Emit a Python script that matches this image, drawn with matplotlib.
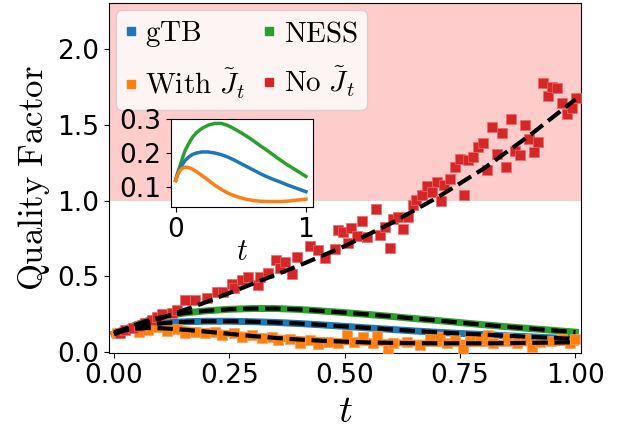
import matplotlib
matplotlib.use("Agg")
import matplotlib.pyplot as plt
from matplotlib.lines import Line2D
import numpy as np

plt.rcParams['mathtext.fontset'] = 'cm'

# model curves (shared by main plot and inset)
t_curve = [0, 0.01, 0.02, 0.03, 0.05, 0.07, 0.1, 0.13, 0.16, 0.2, 0.25, 0.3, 0.35,
           0.4, 0.45, 0.5, 0.55, 0.6, 0.65, 0.7, 0.75, 0.8, 0.85, 0.9, 0.95, 1.0]
ness = [0.12, 0.135, 0.148, 0.158, 0.183, 0.205, 0.228, 0.247, 0.26, 0.272, 0.282,
        0.287, 0.287, 0.281, 0.271, 0.26, 0.248, 0.235, 0.221, 0.208, 0.194, 0.18,
        0.167, 0.155, 0.143, 0.131]
gtb = [0.12, 0.132, 0.142, 0.15, 0.165, 0.177, 0.188, 0.196, 0.2, 0.203, 0.203,
       0.2, 0.195, 0.188, 0.179, 0.169, 0.159, 0.149, 0.139, 0.13, 0.122, 0.115,
       0.107, 0.1, 0.093, 0.086]
with_j = [0.118, 0.13, 0.14, 0.147, 0.155, 0.158, 0.157, 0.152, 0.145, 0.134, 0.12,
          0.105, 0.093, 0.082, 0.074, 0.068, 0.063, 0.06, 0.058, 0.057, 0.057, 0.057,
          0.058, 0.06, 0.062, 0.064]

# fit through the "No J" data
t_fit = [0, 0.1, 0.2, 0.3, 0.4, 0.5, 0.6, 0.7, 0.8, 0.9, 1.0]
no_j_fit = [0.13, 0.22, 0.33, 0.45, 0.57, 0.70, 0.85, 1.02, 1.21, 1.43, 1.67]

# sampled data, No J
t_no = [0.013, 0.024, 0.042, 0.053, 0.067, 0.082, 0.092, 0.103, 0.125, 0.136,
        0.154, 0.176, 0.201, 0.222, 0.237, 0.255, 0.259, 0.277, 0.291, 0.313,
        0.316, 0.334, 0.352, 0.360, 0.371, 0.385, 0.396, 0.425, 0.443, 0.457,
        0.479, 0.486, 0.497, 0.506, 0.514, 0.526, 0.537, 0.548, 0.567, 0.576,
        0.587, 0.597, 0.605, 0.616, 0.627, 0.638, 0.647, 0.654, 0.667, 0.679,
        0.688, 0.699, 0.708, 0.714, 0.728, 0.739, 0.750, 0.758, 0.767, 0.779,
        0.789, 0.799, 0.809, 0.820, 0.829, 0.840, 0.849, 0.860, 0.869, 0.880,
        0.891, 0.900, 0.910, 0.919, 0.930, 0.941, 0.950, 0.960, 0.970, 0.981,
        0.992, 1.001]
q_no = [0.128, 0.145, 0.157, 0.172, 0.19, 0.21, 0.233, 0.251, 0.256, 0.278,
        0.344, 0.344, 0.355, 0.399, 0.399, 0.449, 0.421, 0.476, 0.498, 0.443,
        0.498, 0.524, 0.608, 0.553, 0.597, 0.516, 0.63, 0.70, 0.674, 0.619,
        0.679, 0.806, 0.795, 0.722, 0.817, 0.767, 0.868, 0.758, 0.943, 0.773,
        0.828, 0.685, 0.877, 0.89, 0.811, 0.894, 0.972, 1.005, 1.038, 1.097,
        1.06, 1.126, 1.0, 1.104, 1.141, 1.225, 1.276, 1.038, 1.266, 1.291,
        1.357, 1.379, 1.203, 1.485, 1.309, 1.445, 1.225, 1.538, 1.33, 1.30,
        1.50, 1.406, 1.32, 1.39, 1.776, 1.692, 1.749, 1.743, 1.644, 1.573,
        1.61, 1.677]

# sampled data, With J
t_with = [0.006, 0.053, 0.074, 0.096, 0.114, 0.136, 0.154, 0.176, 0.197, 0.219,
          0.233, 0.259, 0.277, 0.298, 0.32, 0.342, 0.356, 0.381, 0.403, 0.425,
          0.443, 0.464, 0.486, 0.504, 0.519, 0.54, 0.562, 0.569, 0.594, 0.605,
          0.634, 0.663, 0.685, 0.706, 0.721, 0.739, 0.757, 0.771, 0.793, 0.811,
          0.822, 0.851, 0.873, 0.891, 0.905, 0.923, 0.948, 0.97, 0.988, 1.0]
q_with = [0.124, 0.134, 0.145, 0.167, 0.141, 0.15, 0.128, 0.134, 0.124, 0.134,
          0.112, 0.124, 0.101, 0.112, 0.09, 0.101, 0.079, 0.084, 0.062, 0.079,
          0.053, 0.068, 0.057, 0.112, 0.068, 0.101, 0.057, 0.106, 0.013, 0.057,
          0.068, 0.046, 0.084, 0.101, 0.057, 0.079, 0.018, 0.097, 0.084, 0.112,
          0.057, 0.09, 0.057, 0.084, 0.035, 0.068, 0.075, 0.084, 0.057, 0.084]

blue, orange, green, red = '#1f77b4', '#ff7f0e', '#2ca02c', '#d62728'

fig = plt.figure(figsize=(6.36, 4.34), dpi=100)
ax = fig.add_axes([109/636, 81/434, 472/636, 350/434])

ax.axhspan(1.0, 3.0, color='#ffcccc', zorder=0, lw=0)

ax.plot(t_curve, ness, color=green, lw=5, zorder=2)
ax.plot(t_curve, gtb, color=blue, lw=5, zorder=2)
ax.plot(t_curve, with_j, color=orange, lw=5, zorder=2)
ax.scatter(t_with, q_with, marker='s', s=52, color=orange, zorder=3, lw=0.5, edgecolor='#ff9f5e')
ax.scatter(t_no, q_no, marker='s', s=52, color=red, zorder=3, lw=0.5, edgecolor='#e66')

for y in (ness, gtb, with_j):
    ax.plot(t_curve, y, 'k--', lw=3, zorder=4)
ax.plot(t_fit, no_j_fit, 'k--', lw=3, zorder=4)

ax.set_xlim(-0.011, 1.012)
ax.set_ylim(-0.007, 2.307)
ax.set_xticks([0, 0.25, 0.5, 0.75, 1.0])
ax.set_yticks([0, 0.5, 1.0, 1.5, 2.0])
ax.tick_params(labelsize=19)
ax.set_xlabel(r'$t$', fontsize=28, labelpad=2)
ax.set_ylabel(r'$\mathrm{Quality\ Factor}$', fontsize=25, labelpad=4)

handles = [
    Line2D([], [], marker='s', ls='none', color=blue, markersize=6),
    Line2D([], [], marker='s', ls='none', color=orange, markersize=6),
    Line2D([], [], marker='s', ls='none', color=green, markersize=6),
    Line2D([], [], marker='s', ls='none', color=red, markersize=6),
]
labels = [r'$\mathrm{gTB}$', r'$\mathrm{With}\ \tilde{J}_t$',
          r'$\mathrm{NESS}$', r'$\mathrm{No}\ \tilde{J}_t$']
ax.legend(handles, labels, loc='upper left', ncol=2, fontsize=21,
          handlelength=0.4, handletextpad=0.3, columnspacing=0.6,
          labelspacing=0.6, borderpad=0.3, borderaxespad=0.25)

# inset
ins = fig.add_axes([171/636, (434-207)/434, 142/636, 88/434])
ins.plot(t_curve, ness, color=green, lw=2.5)
ins.plot(t_curve, gtb, color=blue, lw=2.5)
ins.plot(t_curve, with_j, color=orange, lw=2.5)
ins.set_xlim(-0.036, 1.054)
ins.set_ylim(0.041, 0.3)
ins.set_xticks([0, 1])
ins.set_yticks([0.1, 0.2, 0.3])
ins.tick_params(labelsize=19)
ins.set_xlabel(r'$t$', fontsize=22, labelpad=-4)

fig.savefig('out.png', dpi=100)
